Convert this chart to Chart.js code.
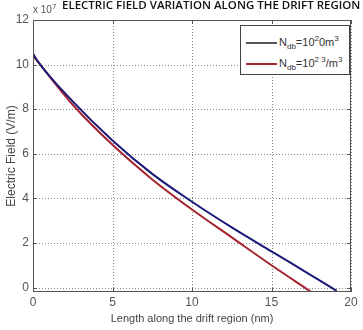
<!DOCTYPE html>
<html>
<head>
<meta charset="utf-8">
<script src="https://cdn.jsdelivr.net/npm/chart.js@4.4.1/dist/chart.umd.min.js"></script>
<style>
  html, body { margin: 0; padding: 0; background: #fff; }
  #wrap { position: relative; width: 363px; height: 330px; }
  #title { position: absolute; left: 62px; top: -3px; font: 600 11.5px "Open Sans", Arial, sans-serif; color: #111; white-space: nowrap; }
  #mult { position: absolute; left: 33px; top: 4px; font: 10px "Liberation Sans Narrow", Arial, sans-serif; color: #555; }
  #legend { position: absolute; left: 240px; top: 25px; width: 108px; height: 48px; border: 1px solid #444; background: #fff;
            font: 11px "Liberation Sans Narrow", Arial, sans-serif; color: #333; }
  .row { position: absolute; left: 5px; height: 12px; line-height: 12px; white-space: nowrap; }
  .sw { display: inline-block; width: 31px; height: 0; border-top: 2px solid; vertical-align: middle; margin-right: 2px; }
  sub, sup { font-size: 8px; line-height: 0; }
</style>
</head>
<body>
<div id="wrap">
  <canvas id="myChart" width="363" height="330"></canvas>
  <div id="title">ELECTRIC FIELD VARIATION ALONG THE DRIFT REGION</div>
  <div id="mult">x 10<sup>7</sup></div>
  <div id="legend">
    <div class="row" style="top:10px"><span class="sw" style="border-color:#555"></span>N<sub>db</sub>=10<sup>2</sup>0m<sup>3</sup></div>
    <div class="row" style="top:31px"><span class="sw" style="border-color:#9e2a2f"></span>N<sub>db</sub>=10<sup>2 3</sup>/m<sup>3</sup></div>
  </div>
</div>
<script>
// distances in nm, field in 1e7 V/m
var xBlue = [0, 0.3, 2.5, 5, 7.5, 10, 12.5, 15, 17.5, 19.1];
var yBlue = [10.5, 10.15, 8.35, 6.6, 5.1, 3.85, 2.7, 1.62, 0.55, -0.15];
var xRed = [0, 2.5, 5, 7.5, 10, 12.5, 15, 17.5];
var yRed = [10.4, 8.2, 6.4, 4.85, 3.5, 2.25, 1.0, -0.2];
var xTicks = [0, 5, 10, 15, 20];
var yTicks = [0, 2, 4, 6, 8, 10, 12];

function pts(xs, ys) {
    return xs.map(function (x, i) { return {x: x, y: ys[i]}; });
}

var narrow = '"Liberation Sans Narrow", Arial, sans-serif';

// dotted grid, frame and inward tick marks
var framePlugin = {
    id: 'frame',
    beforeDatasetsDraw: function (chart) {
        var ctx = chart.ctx;
        var a = chart.chartArea;
        var sx = chart.scales.x, sy = chart.scales.y;
        ctx.save();
        ctx.strokeStyle = '#8a8a8a';
        ctx.lineWidth = 1;
        ctx.setLineDash([1, 2]);
        ctx.beginPath();
        xTicks.forEach(function (t) {
            var px = Math.round(sx.getPixelForValue(t)) + 0.5;
            ctx.moveTo(px, a.top); ctx.lineTo(px, a.bottom);
        });
        yTicks.forEach(function (t) {
            var py = Math.round(sy.getPixelForValue(t)) + 0.5;
            ctx.moveTo(a.left, py); ctx.lineTo(a.right, py);
        });
        ctx.stroke();
        ctx.restore();
    },
    afterDraw: function (chart) {
        var ctx = chart.ctx;
        var a = chart.chartArea;
        var sx = chart.scales.x, sy = chart.scales.y;
        ctx.save();
        ctx.strokeStyle = '#555';
        ctx.lineWidth = 1;
        ctx.strokeRect(a.left + 0.5, a.top + 0.5, a.right - a.left - 1, a.bottom - a.top - 1);
        ctx.beginPath();
        xTicks.forEach(function (t) {
            var px = Math.round(sx.getPixelForValue(t)) + 0.5;
            ctx.moveTo(px, a.bottom); ctx.lineTo(px, a.bottom - 4);
            ctx.moveTo(px, a.top); ctx.lineTo(px, a.top + 4);
        });
        yTicks.forEach(function (t) {
            var py = Math.round(sy.getPixelForValue(t)) + 0.5;
            ctx.moveTo(a.left, py); ctx.lineTo(a.left + 4, py);
            ctx.moveTo(a.right, py); ctx.lineTo(a.right - 4, py);
        });
        ctx.stroke();
        ctx.restore();
    }
};

var ctx = document.getElementById('myChart').getContext('2d');
var chart = new Chart(ctx, {
    type: 'line',
    data: {
        datasets: [{
                label: 'Ndb=10^20/m^3',
                data: pts(xBlue, yBlue),
                borderColor: 'rgb(25,25,120)',
                borderWidth: 2,
                pointRadius: 0,
                cubicInterpolationMode: 'monotone'
        },
            {
                label: 'Ndb=10^23/m^3',
                data: pts(xRed, yRed),
                borderColor: 'rgb(165,35,45)',
                borderWidth: 2,
                pointRadius: 0,
                cubicInterpolationMode: 'monotone'
        }]
    },
    options: {
        responsive: false,
        animation: false,
        layout: {padding: {top: 20, right: 12, left: 4, bottom: 0}},
        plugins: {legend: {display: false}, tooltip: {enabled: false}},
        scales: {
            x: {
                type: 'linear', min: 0, max: 20,
                afterBuildTicks: function (s) { s.ticks = xTicks.map(function (v) { return {value: v}; }); },
                afterFit: function (s) { s.height = 38; },
                grid: {display: false, drawTicks: false},
                border: {display: false},
                ticks: {color: '#555', font: {family: narrow, size: 12}, padding: 3, maxRotation: 0},
                title: {display: true, text: 'Length along the drift region (nm)', color: '#444',
                        font: {family: narrow, size: 11}, padding: {top: 3}}
            },
            y: {
                min: -0.2, max: 12,
                afterBuildTicks: function (s) { s.ticks = yTicks.map(function (v) { return {value: v}; }); },
                afterFit: function (s) { s.width = 29; },
                grid: {display: false, drawTicks: false},
                border: {display: false},
                ticks: {color: '#555', font: {family: narrow, size: 12}, padding: 4},
                title: {display: true, text: 'Electric Field (V/m)', color: '#444',
                        font: {family: narrow, size: 12}, padding: 0}
            }
        }
    },
    plugins: [framePlugin]
});
</script>
</body>
</html>
